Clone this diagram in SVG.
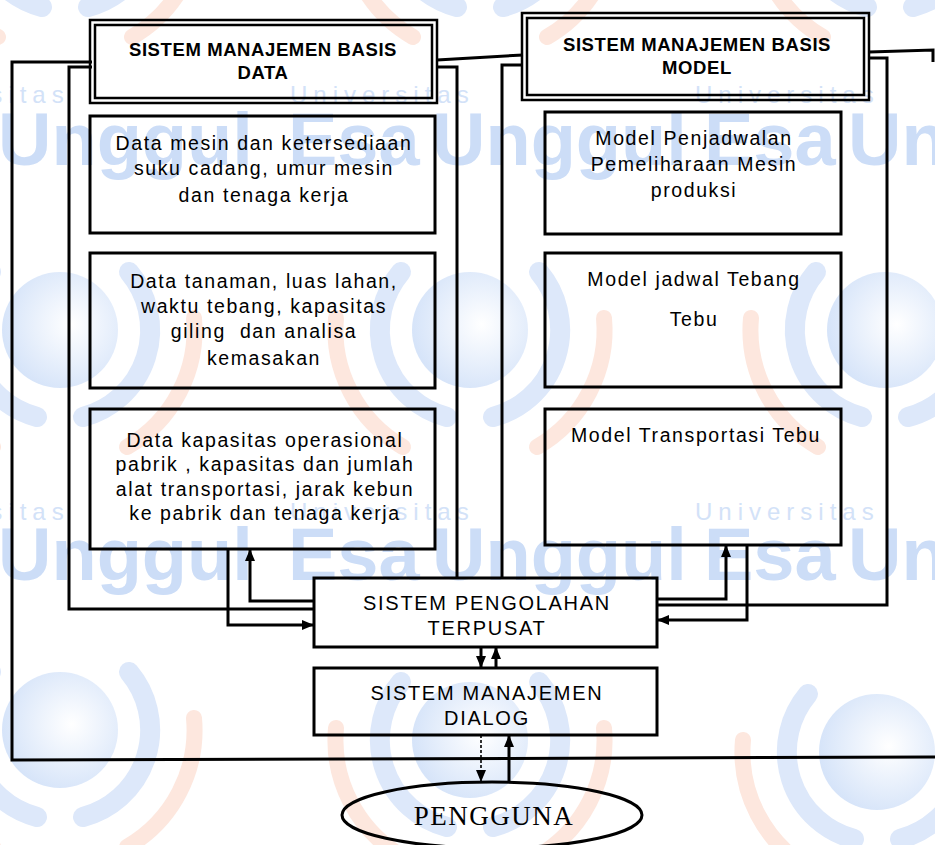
<svg xmlns="http://www.w3.org/2000/svg" width="935" height="845" viewBox="0 0 935 845">
  <style>
    .wm-big { font-family: "Liberation Sans", Arial, sans-serif; font-weight: bold; font-size: 74px; fill: #ccddf7; }
    .wm-small { font-family: "Liberation Sans", Arial, sans-serif; font-size: 24px; letter-spacing: 6px; fill: #d3e2f8; }
    .box { fill: none; stroke: #000; stroke-width: 3; }
    .frame { fill: none; stroke: #000; stroke-width: 2.5; }
    .wire { fill: none; stroke: #000; stroke-width: 3; }
    .thin { fill: none; stroke: #000; stroke-width: 1.6; stroke-dasharray: 3 2; }
    .h { font-family: "Liberation Sans", Arial, sans-serif; font-weight: bold; font-size: 18.5px; letter-spacing: 0.6px; text-anchor: middle; fill: #000; }
    .t { font-family: "Liberation Sans", Arial, sans-serif; font-size: 19.5px; letter-spacing: 1.6px; text-anchor: middle; fill: #000; }
    .s { font-family: "Liberation Sans", Arial, sans-serif; font-size: 20px; letter-spacing: 1.7px; text-anchor: middle; fill: #000; }
    .p { font-family: "Liberation Serif", "Times New Roman", serif; font-size: 27px; letter-spacing: 1.5px; text-anchor: middle; fill: #000; }
  </style>
  <defs>
    <radialGradient id="globe" cx="0.6" cy="0.45" r="0.6">
      <stop offset="0" stop-color="#ffffff"/>
      <stop offset="1" stop-color="#d6e4f9"/>
    </radialGradient>
    <!-- faint university emblem used as a tiled background -->
    <g id="logo">
      <circle r="58" fill="url(#globe)"/>
      <path d="M69 -58 A90 90 0 0 1 23 87" fill="none" stroke="#dde8fa" stroke-width="20" stroke-linecap="round"/>
      <path d="M-69 -58 A90 90 0 0 0 -23 87" fill="none" stroke="#dde8fa" stroke-width="20" stroke-linecap="round"/>
      <path d="M134 -12 A135 135 0 0 1 67 117" fill="none" stroke="#fde7de" stroke-width="16" stroke-linecap="round"/>
      <path d="M-134 -12 A135 135 0 0 0 -67 117" fill="none" stroke="#fde7de" stroke-width="16" stroke-linecap="round"/>
    </g>
    <marker id="arrow" markerUnits="userSpaceOnUse" markerWidth="12" markerHeight="10" refX="11" refY="5" orient="auto">
      <path d="M0 0 L12 5 L0 10 z" fill="#000"/>
    </marker>
  </defs>

  <rect width="935" height="845" fill="#fff"/>

  <!-- background watermark -->
  <g id="watermark">
    <use href="#logo" x="65" y="-80"/>
    <use href="#logo" x="480" y="-80"/>
    <use href="#logo" x="890" y="-80"/>
    <use href="#logo" x="60" y="330"/>
    <use href="#logo" x="470" y="330"/>
    <use href="#logo" x="885" y="330"/>
    <use href="#logo" x="60" y="730"/>
    <use href="#logo" x="470" y="740"/>
    <use href="#logo" x="877" y="752"/>
    <text class="wm-small" x="-115" y="103">Universitas</text>
    <text class="wm-small" x="290" y="103">Universitas</text>
    <text class="wm-small" x="695" y="103">Universitas</text>
    <text class="wm-big" x="-2" y="165">Unggul</text>
    <text class="wm-big" x="288" y="165">Esa</text>
    <text class="wm-big" x="432" y="165">Unggul</text>
    <text class="wm-big" x="704" y="165">Esa</text>
    <text class="wm-big" x="848" y="165">Unggul</text>
    <text class="wm-small" x="-115" y="520">Universitas</text>
    <text class="wm-small" x="290" y="520">Universitas</text>
    <text class="wm-small" x="695" y="520">Universitas</text>
    <text class="wm-big" x="-2" y="580">Unggul</text>
    <text class="wm-big" x="288" y="580">Esa</text>
    <text class="wm-big" x="432" y="580">Unggul</text>
    <text class="wm-big" x="704" y="580">Esa</text>
    <text class="wm-big" x="848" y="580">Unggul</text>
  </g>

  <!-- connectors and frames -->
  <g id="connectors">
    <path class="wire" d="M92 62 H12 V760 L935 757"/>
    <path class="wire" d="M437 60 L523 55"/>
    <path class="wire" d="M869 52 L933 50 V62"/>
    <path class="wire" d="M92 67 H69 V609 H314"/>
    <path class="wire" d="M437 67 H457 V578"/>
    <path class="wire" d="M523 65 H502 V578"/>
    <path class="wire" d="M869 58 H887 V605 H657"/>
    <path class="wire" d="M314 601 H250 V550" marker-end="url(#arrow)"/>
    <path class="wire" d="M228 549 V625 H313" marker-end="url(#arrow)"/>
    <path class="wire" d="M657 599 H726 V546" marker-end="url(#arrow)"/>
    <path class="wire" d="M747 545 V620 H658" marker-end="url(#arrow)"/>
    <path class="wire" d="M481 647 V667" marker-end="url(#arrow)"/>
    <path class="wire" d="M496 668 V648" marker-end="url(#arrow)"/>
    <path class="thin" d="M481 735 V781" marker-end="url(#arrow)"/>
    <path class="wire" d="M509 782 V736" marker-end="url(#arrow)"/>
  </g>

  <g id="smbd">
    <rect class="frame" x="90" y="20" width="347" height="83"/>
    <rect class="frame" x="95" y="25" width="337" height="73"/>
    <text class="h" x="263" y="56">SISTEM MANAJEMEN BASIS</text>
    <text class="h" x="263" y="79">DATA</text>
  </g>

  <g id="smbm">
    <rect class="frame" x="522" y="13" width="347" height="87"/>
    <rect class="frame" x="527" y="18" width="337" height="77"/>
    <text class="h" x="697" y="51">SISTEM MANAJEMEN BASIS</text>
    <text class="h" x="697" y="74">MODEL</text>
  </g>

  <g id="data1">
    <rect class="box" x="90" y="116" width="345" height="117"/>
    <text class="t" x="264" y="150">Data mesin dan ketersediaan</text>
    <text class="t" x="264" y="175">suku cadang, umur mesin</text>
    <text class="t" x="264" y="202">dan tenaga kerja</text>
  </g>

  <g id="data2">
    <rect class="box" x="90" y="253" width="345" height="135"/>
    <text class="t" x="264" y="288">Data tanaman, luas lahan,</text>
    <text class="t" x="264" y="313">waktu tebang, kapasitas</text>
    <text class="t" x="264" y="338" xml:space="preserve">giling  dan analisa</text>
    <text class="t" x="264" y="365">kemasakan</text>
  </g>

  <g id="data3">
    <rect class="box" x="90" y="409" width="345" height="140"/>
    <text class="t" x="265" y="447">Data kapasitas operasional</text>
    <text class="t" x="265" y="471">pabrik , kapasitas dan jumlah</text>
    <text class="t" x="265" y="496">alat transportasi, jarak kebun</text>
    <text class="t" x="265" y="520">ke pabrik dan tenaga kerja</text>
  </g>

  <g id="model1">
    <rect class="box" x="545" y="112" width="296" height="122"/>
    <text class="t" x="694" y="145">Model Penjadwalan</text>
    <text class="t" x="694" y="171">Pemeliharaan Mesin</text>
    <text class="t" x="694" y="197">produksi</text>
  </g>

  <g id="model2">
    <rect class="box" x="545" y="253" width="296" height="134"/>
    <text class="t" x="694" y="286">Model jadwal Tebang</text>
    <text class="t" x="694" y="326">Tebu</text>
  </g>

  <g id="model3">
    <rect class="box" x="545" y="409" width="296" height="136"/>
    <text class="t" x="696" y="442">Model Transportasi Tebu</text>
  </g>

  <g id="pengolahan">
    <rect class="box" x="314" y="578" width="343" height="69"/>
    <text class="s" x="487" y="610">SISTEM PENGOLAHAN</text>
    <text class="s" x="487" y="635">TERPUSAT</text>
  </g>

  <g id="dialog">
    <rect class="box" x="314" y="668" width="343" height="67"/>
    <text class="s" x="487" y="700">SISTEM MANAJEMEN</text>
    <text class="s" x="487" y="725">DIALOG</text>
  </g>

  <g id="pengguna">
    <ellipse class="box" cx="492" cy="815" rx="150" ry="33"/>
    <text class="p" x="494" y="825">PENGGUNA</text>
  </g>
</svg>
